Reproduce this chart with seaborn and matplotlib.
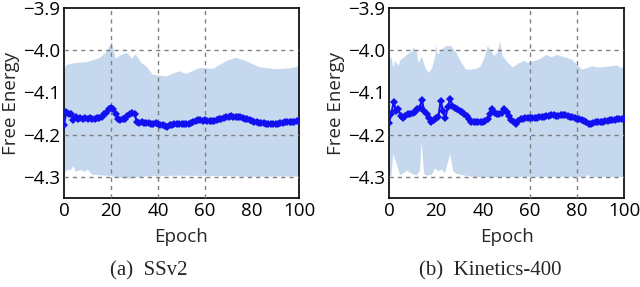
import matplotlib
matplotlib.use("Agg")
import matplotlib.pyplot as plt
import seaborn as sns
import numpy as np
import pandas as pd

epochs = list(range(101))

ssv2_mean = [
    -4.176, -4.147, -4.152, -4.150, -4.165, -4.158, -4.162, -4.160, -4.162, -4.160,
    -4.162, -4.160, -4.162, -4.163, -4.160, -4.161, -4.157, -4.152, -4.148, -4.140,
    -4.137, -4.140, -4.150, -4.162, -4.165, -4.163, -4.163, -4.156, -4.150, -4.148,
    -4.150, -4.170, -4.172, -4.171, -4.172, -4.173, -4.172, -4.174, -4.175, -4.173,
    -4.174, -4.176, -4.178, -4.180, -4.181, -4.178, -4.176, -4.175, -4.174, -4.175,
    -4.175, -4.174, -4.175, -4.174, -4.172, -4.170, -4.168, -4.166, -4.166, -4.167,
    -4.166, -4.167, -4.168, -4.168, -4.167, -4.166, -4.164, -4.162, -4.160, -4.158,
    -4.157, -4.156, -4.157, -4.157, -4.158, -4.158, -4.160, -4.162, -4.164, -4.166,
    -4.168, -4.170, -4.171, -4.172, -4.172, -4.173, -4.174, -4.174, -4.175, -4.174,
    -4.174, -4.174, -4.173, -4.172, -4.171, -4.170, -4.170, -4.169, -4.169, -4.168,
    -4.168,
]

k400_mean = [
    -4.172, -4.150, -4.122, -4.145, -4.140, -4.156, -4.160, -4.155, -4.150, -4.150,
    -4.148, -4.146, -4.140, -4.136, -4.118, -4.145, -4.152, -4.160, -4.171, -4.165,
    -4.160, -4.158, -4.120, -4.145, -4.160, -4.135, -4.116, -4.131, -4.136, -4.140,
    -4.143, -4.146, -4.150, -4.156, -4.162, -4.169, -4.171, -4.171, -4.170, -4.171,
    -4.170, -4.168, -4.162, -4.150, -4.140, -4.148, -4.152, -4.152, -4.148, -4.139,
    -4.146, -4.155, -4.165, -4.170, -4.174, -4.168, -4.164, -4.162, -4.161, -4.161,
    -4.160, -4.161, -4.161, -4.160, -4.159, -4.158, -4.157, -4.156, -4.155, -4.154,
    -4.154, -4.155, -4.155, -4.154, -4.153, -4.154, -4.155, -4.157, -4.159, -4.161,
    -4.162, -4.163, -4.165, -4.168, -4.171, -4.174, -4.175, -4.172, -4.170, -4.170,
    -4.169, -4.169, -4.168, -4.167, -4.166, -4.165, -4.165, -4.164, -4.164, -4.163,
    -4.163,
]

# band edges (x, value)
ssv2_upper_x = [0, 1, 5, 10, 15.3, 18, 20.3, 22, 24, 26.7, 29, 30.5, 33, 35, 37.8,
                43.5, 49, 52, 57.7, 63.4, 69, 73.3, 77.6, 83, 90, 96, 100]
ssv2_upper = [-4.05, -4.035, -4.03, -4.028, -4.018, -4.005, -3.98, -4.02, -4.012, -4.006,
              -4.02, -4.01, -4.03, -4.038, -4.058, -4.062, -4.05, -4.056, -4.042, -4.044,
              -4.026, -4.018, -4.026, -4.04, -4.045, -4.043, -4.038]
ssv2_lower_x = [0, 1, 3, 4, 5, 7, 9, 10, 12, 20, 24, 28, 32, 40, 50, 60, 70, 80, 90, 100]
ssv2_lower = [-4.295, -4.285, -4.283, -4.274, -4.288, -4.284, -4.288, -4.282, -4.295, -4.298,
              -4.302, -4.304, -4.300, -4.298, -4.297, -4.298, -4.298, -4.300, -4.299, -4.299]

k400_upper_x = [0, 1.1, 1.8, 2.6, 4, 5, 6.2, 7.6, 9.7, 10.5, 11.9, 12.6, 14.0, 15.5,
                16.9, 18.4, 19.8, 20.2, 20.8, 22.1, 24.3, 26.4, 28.5, 30.6, 32.8, 34.9,
                37.0, 39.1, 41.0, 42.0, 43.4, 44.8, 46.2, 47.2, 48.4, 50.5, 52.7, 54.8,
                57.7, 59.1, 61.3, 64.1, 67, 69.2, 71.3, 73.5, 75.6, 77.8, 80, 82.1, 84.3,
                86.5, 88.7, 91.5, 94.3, 97.2, 98.6, 100]
k400_upper = [-4.03, -4.015, -4.042, -4.025, -4.037, -4.022, -4.018, -4.011, -4.003, -3.993,
              -4.005, -4.03, -4.015, -4.042, -4.054, -4.042, -4.012, -3.986, -4.012, -4.0,
              -3.99, -3.99, -4.005, -4.027, -4.046, -4.046, -4.044, -4.038, -4.012, -3.99,
              -4.002, -4.014, -4.006, -3.979, -4.014, -4.029, -4.041, -4.032, -4.025, -4.03,
              -4.026, -4.022, -4.011, -4.017, -4.011, -4.015, -4.018, -4.022, -4.034, -4.046,
              -4.042, -4.038, -4.041, -4.04, -4.038, -4.036, -4.042, -4.04]
k400_lower_x = [0, 1.1, 1.8, 3.2, 4.7, 6.1, 7.5, 9.6, 11.8, 13.2, 13.9, 14.9, 16.0, 18.2,
                19.6, 21.0, 22.4, 23.8, 26.0, 27.4, 28.8, 32.3, 36, 45, 55, 65, 75, 84,
                84.8, 86, 92, 100]
k400_lower = [-4.3, -4.297, -4.246, -4.269, -4.295, -4.292, -4.285, -4.292, -4.297, -4.285,
              -4.217, -4.292, -4.297, -4.295, -4.28, -4.287, -4.282, -4.292, -4.246, -4.287,
              -4.293, -4.297, -4.3, -4.301, -4.3, -4.3, -4.3, -4.3, -4.295, -4.3, -4.3, -4.3]

captions = ["(a)  SSv2", "(b)  Kinetics-400"]
y_ticks = [-4.3, -4.2, -4.1, -4.0, -3.9]
x_ticks = [0, 20, 40, 60, 80, 100]

sns.set_style("white")
plt.rcParams["font.family"] = ["Open Sans", "DejaVu Sans"]

fig = plt.figure(figsize=(6.4, 2.87), dpi=100)
W, H = 640, 287
ax1 = fig.add_axes([64 / W, 89 / H, 235 / W, 190 / H])
ax2 = fig.add_axes([389 / W, 89 / H, 235 / W, 190 / H])

panels = [
    (ax1, ssv2_mean, ssv2_upper_x, ssv2_upper, ssv2_lower_x, ssv2_lower, [80], 149, captions[0]),
    (ax2, k400_mean, k400_upper_x, k400_upper, k400_lower_x, k400_lower, [20, 40], 490, captions[1]),
]

for ax, mean, ux, up, lx, lo, hide_x, cap_x, cap in panels:
    poly_x = np.concatenate([ux, lx[::-1]])
    poly_y = np.concatenate([up, lo[::-1]])
    ax.fill(poly_x, poly_y, color="#c5d8ee", lw=0, zorder=1)

    df = pd.DataFrame({"Epoch": epochs, "Free Energy": mean})
    sns.lineplot(data=df, x="Epoch", y="Free Energy", ax=ax, color="#1010f0",
                 marker="D", markersize=4.2, markeredgewidth=0, lw=1.5, zorder=4)

    ax.set_xlim(0, 100)
    ax.set_ylim(-4.35, -3.9)
    ax.set_xticks(x_ticks)
    ax.set_yticks(y_ticks)
    ax.set_yticklabels([f"\u2212{abs(v):.1f}" for v in y_ticks])
    ax.tick_params(length=0, labelsize=13.5, pad=3, colors="black")
    ax.set_xlabel("Epoch", fontsize=13.5, labelpad=6)
    ax.set_ylabel("Free Energy", fontsize=13.5, labelpad=2)

    for v in x_ticks[1:-1]:
        if v not in hide_x:
            ax.axvline(v, color="#808080", lw=1, ls=(0, (3, 3)), zorder=3)
    for v in [-4.3, -4.2, -4.0]:
        ax.axhline(v, color="#808080", lw=1, ls=(0, (3, 3)), zorder=3)

    for s in ax.spines.values():
        s.set_color("black")
        s.set_linewidth(1.2)

    fig.text(cap_x / W, 16 / H, cap, ha="center", va="center",
             family="Liberation Serif", fontsize=15)

fig.savefig("out.png", dpi=100)
